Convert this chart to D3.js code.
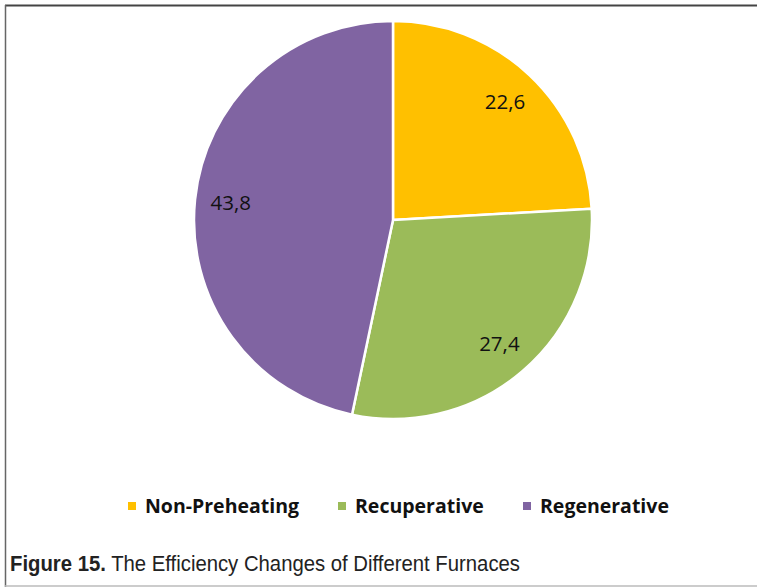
<!DOCTYPE html>
<html>
<head>
<meta charset="utf-8">
<script src="https://cdn.jsdelivr.net/npm/d3@7"></script>
<style>
body { margin: 0; background: #fff; }
</style>
</head>
<body>
<script>
// data
var categories = ["Non-Preheating", "Recuperative", "Regenerative"];
var values = [22.6, 27.4, 43.8];
var labels = ["22,6", "27,4", "43,8"];
var colors = ["#FFC000", "#9BBB59", "#8064A2"];

var width = 757, height = 587;
var cx = 393, cy = 220, radius = 199;

var svg = d3.select("body")
    .append("svg")
    .attr("width", width)
    .attr("height", height);

// frame lines
svg.append("line").attr("x1", 5).attr("x2", 757).attr("y1", 5.5).attr("y2", 5.5)
    .attr("stroke", "#444").attr("stroke-width", 2);
svg.append("line").attr("x1", 5.5).attr("x2", 5.5).attr("y1", 5).attr("y2", 587)
    .attr("stroke", "#666").attr("stroke-width", 1.5);
svg.append("line").attr("x1", 5).attr("x2", 757).attr("y1", 586).attr("y2", 586)
    .attr("stroke", "#bbb").attr("stroke-width", 1.5);

var color = d3.scaleOrdinal().domain(categories).range(colors);

var pie = d3.pie().sort(null).value(function(d) { return d.v; });
var data = pie(categories.map(function(c, i) { return { c: c, v: values[i], l: labels[i] }; }));

var arc = d3.arc().innerRadius(0).outerRadius(radius);
var labelArc = d3.arc().innerRadius(radius * 0.82).outerRadius(radius * 0.82);

var g = svg.append("g").attr("transform", "translate(" + cx + "," + cy + ")");

g.selectAll("path.slice")
    .data(data)
    .enter().append("path")
    .attr("class", "slice")
    .attr("d", arc)
    .attr("fill", function(d) { return color(d.data.c); })
    .attr("stroke", "#fff")
    .attr("stroke-width", 2.5)
    .attr("stroke-linejoin", "round");

g.selectAll("text.lbl")
    .data(data)
    .enter().append("text")
    .attr("class", "lbl")
    .attr("transform", function(d) { return "translate(" + labelArc.centroid(d) + ")"; })
    .attr("text-anchor", "middle")
    .attr("dy", "0.36em")
    .attr("font-family", "'Open Sans', sans-serif")
    .attr("font-size", 20.5)
    .attr("fill", "#111")
    .text(function(d) { return d.data.l; });

// legend
var legendX = [128, 338, 523];
var legend = svg.selectAll("g.leg")
    .data(categories)
    .enter().append("g")
    .attr("class", "leg")
    .attr("transform", function(d, i) { return "translate(" + legendX[i] + ",502)"; });

legend.append("rect")
    .attr("width", 8).attr("height", 8)
    .attr("fill", function(d) { return color(d); });

legend.append("text")
    .attr("x", 17)
    .attr("y", 11)
    .attr("font-family", "'Open Sans', sans-serif")
    .attr("font-weight", "bold")
    .attr("font-size", 19.5)
    .attr("fill", "#111")
    .text(function(d) { return d; });

// caption
var cap = svg.append("text")
    .attr("x", 10)
    .attr("y", 571)
    .attr("font-family", "'Liberation Sans Narrow', 'Arial Narrow', 'Liberation Sans', sans-serif")
    .attr("font-size", 21.5)
    .attr("fill", "#222")
    .attr("textLength", 510)
    .attr("lengthAdjust", "spacingAndGlyphs");
cap.append("tspan").attr("font-weight", "bold").text("Figure 15.");
cap.append("tspan").text(" The Efficiency Changes of Different Furnaces");
</script>
</body>
</html>
